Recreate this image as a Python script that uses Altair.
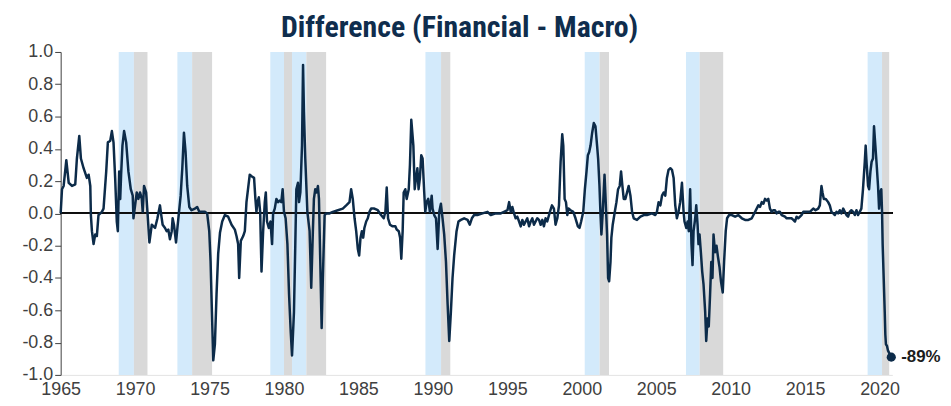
import altair as alt
import pandas as pd

# ---- data ----
years = [
    1965.00, 1965.09, 1965.20, 1965.38, 1965.54, 1965.76, 1965.98, 1966.09, 1966.25, 1966.36,
    1966.54, 1966.76, 1966.88, 1966.99, 1967.03, 1967.10, 1967.21, 1967.32, 1967.43, 1967.54,
    1967.77, 1967.88, 1968.06, 1968.17, 1968.33, 1968.44, 1968.55, 1968.66, 1968.77, 1968.84,
    1968.93, 1969.00, 1969.06, 1969.15, 1969.26, 1969.40, 1969.55, 1969.71, 1969.84, 1969.89,
    1970.00, 1970.11, 1970.22, 1970.33, 1970.45, 1970.51, 1970.60, 1970.74, 1970.83, 1970.96,
    1971.12, 1971.34, 1971.50, 1971.67, 1971.74, 1971.85, 1972.01, 1972.12, 1972.23, 1972.34,
    1972.46, 1972.52, 1972.61, 1972.75, 1972.83, 1972.95, 1973.06, 1973.13, 1973.17, 1973.28,
    1973.39, 1973.50, 1973.64, 1973.79, 1974.02, 1974.17, 1974.31, 1974.69, 1974.84, 1974.98,
    1975.07, 1975.16, 1975.25, 1975.36, 1975.47, 1975.58, 1975.70, 1975.85, 1976.03, 1976.25,
    1976.48, 1976.70, 1976.81, 1976.92, 1976.99, 1977.10, 1977.26, 1977.37, 1977.48, 1977.70,
    1977.82, 1977.99, 1978.08, 1978.15, 1978.22, 1978.31, 1978.40, 1978.49, 1978.60, 1978.71,
    1978.78, 1978.86, 1978.98, 1979.09, 1979.20, 1979.27, 1979.38, 1979.49, 1979.60, 1979.71,
    1979.82, 1979.91, 1980.00, 1980.11, 1980.23, 1980.34, 1980.45, 1980.54, 1980.67, 1980.76,
    1980.83, 1980.94, 1981.01, 1981.10, 1981.21, 1981.28, 1981.34, 1981.43, 1981.57, 1981.72,
    1981.83, 1981.94, 1982.01, 1982.10, 1982.19, 1982.28, 1982.35, 1982.46, 1982.53, 1982.61,
    1982.73, 1982.84, 1983.06, 1983.28, 1983.62, 1983.95, 1984.18, 1984.40, 1984.51, 1984.62,
    1984.74, 1984.85, 1984.96, 1985.05, 1985.14, 1985.23, 1985.32, 1985.40, 1985.52, 1985.63,
    1985.74, 1985.85, 1986.07, 1986.30, 1986.52, 1986.70, 1986.81, 1986.90, 1986.99, 1987.12,
    1987.30, 1987.48, 1987.57, 1987.71, 1987.80, 1987.88, 1987.97, 1988.04, 1988.15, 1988.24,
    1988.38, 1988.46, 1988.55, 1988.69, 1988.78, 1988.87, 1988.96, 1989.04, 1989.13, 1989.22,
    1989.31, 1989.42, 1989.49, 1989.58, 1989.69, 1989.80, 1989.92, 1989.98, 1990.09, 1990.21,
    1990.32, 1990.43, 1990.54, 1990.65, 1990.76, 1990.88, 1990.99, 1991.10, 1991.21, 1991.32,
    1991.43, 1991.59, 1991.72, 1991.88, 1992.10, 1992.33, 1992.48, 1992.62, 1992.77, 1992.99,
    1993.33, 1993.67, 1993.89, 1994.22, 1994.56, 1994.78, 1995.01, 1995.12, 1995.23, 1995.34,
    1995.45, 1995.56, 1995.67, 1995.79, 1995.90, 1996.01, 1996.12, 1996.23, 1996.34, 1996.46,
    1996.57, 1996.68, 1996.79, 1996.90, 1997.01, 1997.13, 1997.24, 1997.35, 1997.46, 1997.57,
    1997.68, 1997.86, 1998.00, 1998.13, 1998.24, 1998.36, 1998.47, 1998.58, 1998.69, 1998.76,
    1998.85, 1998.94, 1999.03, 1999.11, 1999.25, 1999.43, 1999.58, 1999.74, 1999.85, 1999.96,
    2000.10, 2000.21, 2000.32, 2000.41, 2000.50, 2000.59, 2000.70, 2000.81, 2000.92, 2001.03,
    2001.10, 2001.19, 2001.26, 2001.32, 2001.41, 2001.53, 2001.61, 2001.70, 2001.77, 2001.84,
    2001.93, 2001.99, 2002.08, 2002.22, 2002.33, 2002.44, 2002.55, 2002.64, 2002.73, 2002.82,
    2002.93, 2003.04, 2003.15, 2003.27, 2003.38, 2003.49, 2003.71, 2003.94, 2004.16, 2004.38,
    2004.72, 2004.94, 2005.05, 2005.16, 2005.28, 2005.39, 2005.50, 2005.61, 2005.72, 2005.83,
    2005.95, 2006.06, 2006.17, 2006.28, 2006.39, 2006.50, 2006.61, 2006.73, 2006.84, 2006.90,
    2007.02, 2007.11, 2007.19, 2007.28, 2007.37, 2007.44, 2007.51, 2007.62, 2007.69, 2007.78,
    2007.84, 2007.91, 2008.00, 2008.09, 2008.18, 2008.29, 2008.36, 2008.45, 2008.53, 2008.62,
    2008.70, 2008.78, 2008.85, 2008.95, 2009.05, 2009.15, 2009.25, 2009.35, 2009.47, 2009.56,
    2009.67, 2009.76, 2009.90, 2010.08, 2010.30, 2010.52, 2010.75, 2010.97, 2011.19, 2011.42,
    2011.53, 2011.64, 2011.75, 2011.86, 2011.97, 2012.09, 2012.20, 2012.31, 2012.42, 2012.53,
    2012.64, 2012.76, 2012.87, 2012.98, 2013.09, 2013.20, 2013.31, 2013.43, 2013.65, 2013.76,
    2013.87, 2014.09, 2014.21, 2014.32, 2014.43, 2014.54, 2014.76, 2014.88, 2015.10, 2015.32,
    2015.55, 2015.70, 2015.88, 2015.99, 2016.10, 2016.17, 2016.26, 2016.39, 2016.55, 2016.66,
    2016.77, 2016.89, 2017.00, 2017.11, 2017.22, 2017.33, 2017.44, 2017.56, 2017.67, 2017.78,
    2017.89, 2018.00, 2018.11, 2018.23, 2018.34, 2018.45, 2018.56, 2018.67, 2018.78, 2018.89,
    2019.01, 2019.07, 2019.14, 2019.23, 2019.30, 2019.39, 2019.47, 2019.56, 2019.63, 2019.72,
    2019.81, 2019.90, 2019.97, 2020.05, 2020.12, 2020.17, 2020.21, 2020.28, 2020.35, 2020.39,
    2020.43, 2020.50, 2020.57, 2020.68, 2020.79,
]

values = [
    0.00, 0.15, 0.17, 0.33, 0.19, 0.17, 0.18, 0.34, 0.48, 0.34,
    0.28, 0.22, 0.24, 0.17, -0.01, -0.11, -0.19, -0.13, -0.14, -0.01,
    0.01, 0.03, 0.26, 0.44, 0.45, 0.51, 0.44, 0.22, -0.05, -0.11,
    0.26, 0.09, 0.24, 0.42, 0.51, 0.44, 0.26, 0.15, 0.11, -0.03,
    0.05, 0.13, 0.09, 0.13, 0.09, 0.01, 0.17, 0.13, 0.01, -0.18,
    -0.07, -0.09, -0.03, 0.05, 0.00, -0.07, -0.09, -0.11, -0.10, -0.16,
    -0.11, -0.03, -0.07, -0.18, -0.10, 0.01, 0.11, 0.22, 0.28, 0.50,
    0.38, 0.17, 0.04, 0.02, 0.03, 0.04, 0.01, 0.01, 0.00, -0.11,
    -0.30, -0.61, -0.91, -0.81, -0.50, -0.25, -0.12, -0.05, -0.01, -0.02,
    -0.07, -0.10, -0.14, -0.19, -0.40, -0.17, -0.14, -0.11, 0.07, 0.24,
    0.23, 0.22, 0.09, 0.01, 0.07, 0.10, 0.01, -0.36, -0.11, 0.07,
    0.13, -0.05, -0.09, -0.05, -0.19, 0.00, 0.03, 0.09, 0.07, 0.08,
    0.07, 0.15, 0.01, -0.03, -0.19, -0.50, -0.73, -0.88, -0.61, -0.19,
    0.15, 0.19, 0.07, 0.13, 0.42, 0.92, 0.63, 0.34, 0.01, -0.11,
    -0.46, -0.11, 0.09, 0.15, 0.13, 0.17, 0.09, -0.40, -0.71, -0.40,
    -0.01, 0.00, 0.00, 0.01, 0.02, 0.03, 0.05, 0.07, 0.15, 0.09,
    -0.03, -0.11, -0.22, -0.26, -0.15, -0.11, -0.15, -0.09, -0.05, -0.03,
    0.01, 0.03, 0.03, 0.02, -0.01, -0.03, 0.01, 0.16, -0.03, -0.07,
    -0.08, -0.08, -0.10, -0.11, -0.15, -0.28, -0.11, 0.13, 0.15, 0.09,
    0.15, 0.30, 0.58, 0.42, 0.15, 0.22, 0.28, 0.15, 0.22, 0.36,
    0.34, 0.13, 0.01, 0.07, 0.09, 0.01, 0.11, 0.03, -0.01, -0.03,
    -0.22, 0.01, 0.06, -0.03, -0.13, -0.30, -0.56, -0.79, -0.61, -0.40,
    -0.26, -0.11, -0.05, -0.04, -0.03, -0.04, -0.07, -0.03, -0.01, -0.01,
    0.00, 0.01, -0.01, 0.00, 0.00, 0.01, 0.02, 0.07, 0.01, 0.04,
    0.00, -0.03, -0.02, -0.05, -0.08, -0.04, -0.07, -0.05, -0.03, -0.08,
    -0.05, -0.03, -0.07, -0.05, -0.03, -0.04, -0.07, -0.04, -0.08, -0.03,
    -0.05, 0.01, 0.05, 0.03, -0.07, -0.03, 0.05, 0.32, 0.49, 0.42,
    0.09, 0.07, -0.01, 0.03, 0.02, 0.01, -0.03, -0.08, -0.09, -0.05,
    0.01, 0.15, 0.26, 0.36, 0.38, 0.42, 0.50, 0.56, 0.54, 0.42,
    0.34, 0.17, -0.01, -0.13, 0.01, 0.24, 0.07, -0.13, -0.40, -0.42,
    -0.30, -0.15, -0.07, 0.01, 0.07, 0.15, 0.17, 0.26, 0.17, 0.09,
    0.09, 0.13, 0.17, 0.11, 0.01, -0.03, -0.04, -0.02, -0.01, -0.01,
    0.00, -0.01, 0.01, 0.07, 0.05, 0.11, 0.13, 0.11, 0.22, 0.27,
    0.28, 0.27, 0.22, 0.05, -0.03, 0.01, 0.07, 0.19, 0.01, -0.05,
    -0.09, -0.05, -0.11, 0.15, -0.19, -0.32, -0.11, -0.03, 0.05, -0.07,
    -0.19, -0.13, -0.24, -0.36, -0.44, -0.61, -0.79, -0.65, -0.70, -0.50,
    -0.30, -0.40, -0.13, -0.24, -0.20, -0.27, -0.33, -0.42, -0.49, -0.30,
    -0.11, -0.03, -0.01, -0.01, -0.02, -0.01, -0.03, -0.04, -0.04, -0.03,
    -0.01, 0.01, 0.03, 0.05, 0.04, 0.07, 0.06, 0.09, 0.08, 0.09,
    0.03, 0.01, 0.02, 0.02, 0.00, 0.01, 0.01, -0.01, -0.02, -0.03,
    -0.03, -0.03, -0.04, -0.05, -0.02, -0.03, -0.01, 0.01, 0.01, 0.01,
    0.03, 0.02, 0.03, 0.05, 0.17, 0.13, 0.09, 0.09, 0.07, 0.05,
    0.01, 0.00, -0.01, 0.01, 0.00, 0.02, 0.00, 0.03, 0.01, -0.01,
    -0.02, 0.01, 0.02, 0.01, -0.01, 0.02, -0.01, 0.01, 0.03, 0.15,
    0.32, 0.42, 0.30, 0.17, 0.15, 0.26, 0.32, 0.34, 0.54, 0.42,
    0.30, 0.17, 0.03, 0.13, 0.15, 0.01, -0.19, -0.40, -0.61, -0.75,
    -0.81, -0.82, -0.85, -0.87, -0.89,
]

# shaded periods: light blue = year before recession, grey = recession
band_start = [1968.90, 1969.92, 1972.84, 1973.83, 1979.08, 1980.00, 1980.54, 1981.50,
              1989.50, 1990.55, 2000.20, 2001.20, 2007.00, 2007.92, 2019.20, 2020.17]
band_end = [1969.92, 1970.83, 1973.83, 1975.17, 1980.00, 1980.54, 1981.50, 1982.83,
            1990.55, 1991.17, 2001.20, 2001.83, 2007.92, 2009.50, 2020.17, 2020.65]
band_kind = ["pre", "rec", "pre", "rec", "pre", "rec", "pre", "rec",
             "pre", "rec", "pre", "rec", "pre", "rec", "pre", "rec"]

x_ticks = [1965, 1970, 1975, 1980, 1985, 1990, 1995, 2000, 2005, 2010, 2015, 2020]
y_ticks = [-1.0, -0.8, -0.6, -0.4, -0.2, 0.0, 0.2, 0.4, 0.6, 0.8, 1.0]
end_label = "-89%"
title_text = "Difference (Financial - Macro)"

NAVY = "#0c2b49"
TICK = "#404040"
FONT = "Liberation Sans"
TITLE_FONT = "Roboto Condensed, DejaVu Sans Condensed, Liberation Sans, sans-serif"

line_df = pd.DataFrame({"year": years, "value": values})
band_df = pd.DataFrame({"start": band_start, "end": band_end, "kind": band_kind})
end_df = pd.DataFrame({"year": [years[-1]], "value": [values[-1]], "label": [end_label]})

x_scale = alt.Scale(domain=[1965, 2020.86], nice=False, zero=False)
y_scale = alt.Scale(domain=[-1, 1], nice=False)

x_axis = alt.Axis(values=x_ticks, format="d", title=None, grid=False, ticks=False,
                  domainColor="#e3e3e3", labelFont=FONT, labelFontSize=18,
                  labelColor=TICK, labelPadding=6, labelFlush=False, labelOverlap=False)
y_axis = alt.Axis(values=y_ticks, title=None, grid=False, tickSize=6, tickColor=TICK,
                  domainColor=TICK, labelFont=FONT, labelFontSize=18, labelColor=TICK,
                  labelPadding=2, labelOverlap=False, labelFlush=False,
                  labelExpr="(datum.value < -0.001 ? '-' : '') + format(abs(datum.value), '.1f')")

bands = alt.Chart(band_df).mark_rect(opacity=1).encode(
    x=alt.X("start:Q", scale=x_scale, axis=x_axis),
    x2="end:Q",
    y=alt.datum(-1, scale=y_scale, axis=y_axis),
    y2=alt.datum(1),
    color=alt.Color("kind:N", scale=alt.Scale(domain=["pre", "rec"],
                                              range=["#d3eafb", "#d9d9d9"]), legend=None),
)

zero = alt.Chart(line_df).mark_rule(color="#111111", strokeWidth=1).encode(
    y=alt.datum(0, scale=y_scale, axis=y_axis)
)

line = alt.Chart(line_df).mark_line(color=NAVY, strokeWidth=2.5, strokeJoin="round").encode(
    x=alt.X("year:Q", scale=x_scale, axis=x_axis),
    y=alt.Y("value:Q", scale=y_scale, axis=y_axis),
)

dot = alt.Chart(end_df).mark_circle(color=NAVY, size=85, opacity=1).encode(
    x=alt.X("year:Q", scale=x_scale, axis=x_axis),
    y=alt.Y("value:Q", scale=y_scale, axis=y_axis),
)

label = alt.Chart(end_df).mark_text(align="left", baseline="middle", dx=10, dy=0,
                                    font=FONT, fontSize=17, fontWeight="bold",
                                    color="#1c1c1c").encode(
    x=alt.X("year:Q", scale=x_scale, axis=x_axis),
    y=alt.Y("value:Q", scale=y_scale, axis=y_axis),
    text="label:N",
)

chart = alt.layer(bands, zero, line, dot, label).properties(
    width=837,
    height=325,
    title=alt.TitleParams(text=title_text, font=TITLE_FONT,
                          fontSize=30, fontWeight="bold", color="#0f2d4d",
                          anchor="middle", frame="group", dx=-17, offset=0),
    autosize=alt.AutoSizeParams(type="none"),
    padding={"left": 53, "top": 43, "right": 51, "bottom": 22},
).configure_view(stroke=None).configure_axis(labelOverlap=False)

chart.save("out.html", embed_options={"renderer": "svg", "actions": False})
